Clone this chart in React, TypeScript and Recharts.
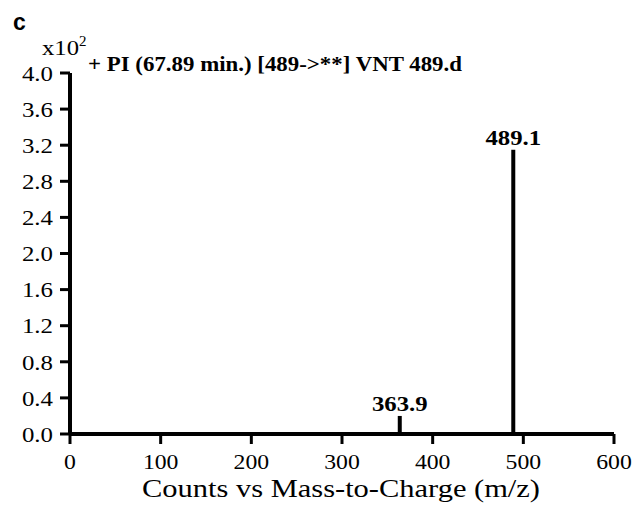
import React from "react";
import {
  ComposedChart,
  Bar,
  XAxis,
  YAxis,
  LabelList,
} from "recharts";

// m/z positions and intensities (x10^2 counts)
const mzValues = [56, 63, 71, 363.9, 489.1, 503, 512, 520, 527, 590];
const intensities = [0.01, 0.01, 0.02, 0.2, 3.15, 0.015, 0.01, 0.015, 0.01, 0.01];
const peakLabels = ["", "", "", "363.9", "489.1", "", "", "", "", ""];

const xTicks = [0, 100, 200, 300, 400, 500, 600];
const yTicks = [0, 0.4, 0.8, 1.2, 1.6, 2.0, 2.4, 2.8, 3.2, 3.6, 4.0];

const chartTitle = "+ PI (67.89 min.) [489->**] VNT 489.d";
const xTitle = "Counts vs Mass-to-Charge (m/z)";

const data = mzValues.map((mz, i) => ({
  mz,
  value: intensities[i],
  label: peakLabels[i],
}));

const SERIF = '"Liberation Serif", "Times New Roman", serif';
const STRETCH = 1.13;

// the reference font is a little wider than Liberation Serif
function XTick(props: any) {
  const { x, y, payload } = props;
  return (
    <text
      transform={`translate(${x},${y}) scale(${STRETCH},1)`}
      textAnchor="middle"
      dy="0.71em"
      fontFamily={SERIF}
      fontSize={21}
      fill="#000"
    >
      {payload.value}
    </text>
  );
}

function YTick(props: any) {
  const { x, y, payload } = props;
  return (
    <text
      transform={`translate(${x},${y}) scale(${STRETCH},1)`}
      textAnchor="end"
      dy="0.35em"
      fontFamily={SERIF}
      fontSize={22}
      fill="#000"
    >
      {Number(payload.value).toFixed(1)}
    </text>
  );
}

function PeakLabel(props: any) {
  const { x, y, width, value } = props;
  if (!value) return null;
  return (
    <text
      transform={`translate(${x + width / 2},${y - 5}) scale(1.18,1)`}
      textAnchor="middle"
      fontFamily={SERIF}
      fontWeight="bold"
      fontSize={21}
      fill="#000"
    >
      {value}
    </text>
  );
}

export default function App() {
  return (
    <div style={{ position: "absolute", left: 0, top: 0, width: 634, height: 507, background: "#fff" }}>
      <ComposedChart
        width={634}
        height={507}
        data={data}
        margin={{ top: 73, right: 20, bottom: 13, left: 20 }}
      >
        <XAxis
          dataKey="mz"
          type="number"
          domain={[0, 600]}
          ticks={xTicks}
          interval={0}
          height={60}
          axisLine={{ stroke: "#000", strokeWidth: 4 }}
          tickLine={{ stroke: "#000", strokeWidth: 3 }}
          tickSize={10}
          tickMargin={10}
          tick={<XTick />}
        />
        <YAxis
          type="number"
          domain={[0, 4]}
          ticks={yTicks}
          interval={0}
          width={50}
          allowDataOverflow
          axisLine={{ stroke: "#000", strokeWidth: 4 }}
          tickLine={{ stroke: "#000", strokeWidth: 3 }}
          tickSize={10}
          tickMargin={7}
          tick={<YTick />}
        />
        <Bar dataKey="value" fill="#000" barSize={4} isAnimationActive={false}>
          <LabelList dataKey="label" content={<PeakLabel />} />
        </Bar>
        <text x={13} y={30} fontFamily='"Liberation Sans", Arial, sans-serif' fontWeight="bold" fontSize={23} fill="#000">
          c
        </text>
        <text x={42} y={55} fontFamily={SERIF} fontSize={22} textLength={37} lengthAdjust="spacingAndGlyphs" fill="#000">
          x10
        </text>
        <text x={79} y={46} fontFamily={SERIF} fontSize={15} fill="#000">
          2
        </text>
        <text
          x={88}
          y={71}
          fontFamily={SERIF}
          fontWeight="bold"
          fontSize={21}
          textLength={374}
          lengthAdjust="spacingAndGlyphs"
          fill="#000"
        >
          {chartTitle}
        </text>
        <text
          x={142}
          y={497}
          fontFamily={SERIF}
          fontSize={25}
          textLength={398}
          lengthAdjust="spacingAndGlyphs"
          fill="#000"
        >
          {xTitle}
        </text>
      </ComposedChart>
    </div>
  );
}
